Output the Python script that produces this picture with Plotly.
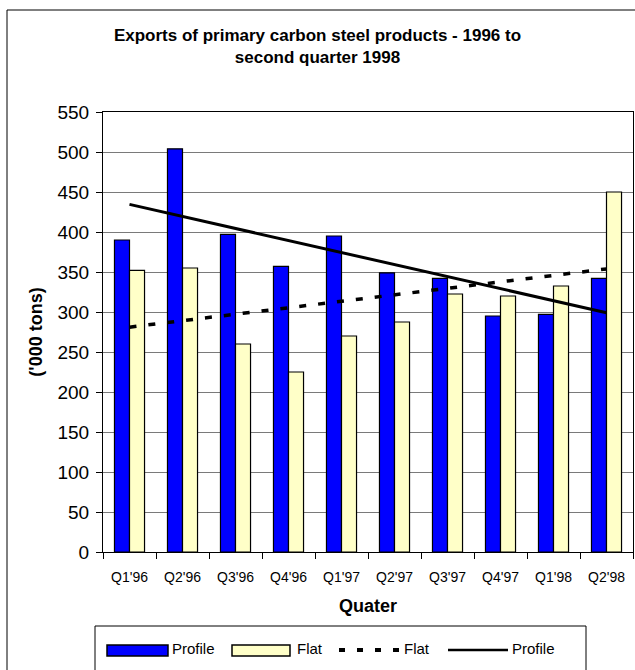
import numpy as np
import plotly.graph_objects as go

# Quarterly export volumes ('000 tons)
quarters = ["Q1'96", "Q2'96", "Q3'96", "Q4'96", "Q1'97",
            "Q2'97", "Q3'97", "Q4'97", "Q1'98", "Q2'98"]
profile = [390, 504, 397, 357, 395, 349, 342, 295, 297, 342]
flat = [352, 355, 260, 225, 270, 287.5, 322.5, 320, 332.5, 450]

y_ticks = list(range(0, 551, 50))

# Least-squares linear trend over the quarter index
idx = np.arange(1, len(quarters) + 1)


def linear_trend(values):
    slope, intercept = np.polyfit(idx, values, 1)
    return slope * idx + intercept


W, H = 635, 670
M_L, M_R, M_T, M_B = 103, 2, 112, 118
PW, PH = W - M_L - M_R, H - M_T - M_B


def px(x):
    return (x - M_L) / PW


def py(y):
    return (H - M_B - y) / PH


FONT = "Arial"

fig = go.Figure()
fig.add_bar(x=quarters, y=profile, name="Profile",
            marker=dict(color="#0000FF", line=dict(color="black", width=1.2)))
fig.add_bar(x=quarters, y=flat, name="Flat",
            marker=dict(color="#FFFFC8", line=dict(color="black", width=1.2)))
fig.add_scatter(x=quarters, y=linear_trend(flat), mode="lines", name="Flat",
                line=dict(color="black", width=3.5, dash="7px,12px"))
fig.add_scatter(x=quarters, y=linear_trend(profile), mode="lines", name="Profile",
                line=dict(color="black", width=3))

shapes = []
# outer chart frame (left and top edges)
shapes.append(dict(type="line", xref="paper", yref="paper",
                   x0=px(7), y0=py(10), x1=px(7), y1=py(700),
                   line=dict(color="black", width=1)))
shapes.append(dict(type="line", xref="paper", yref="paper",
                   x0=px(7), y0=py(10), x1=px(660), y1=py(10),
                   line=dict(color="black", width=1)))
# legend box
shapes.append(dict(type="rect", xref="paper", yref="paper",
                   x0=px(95), y0=py(626), x1=px(586), y1=py(700),
                   line=dict(color="black", width=1), fillcolor="white"))
# legend keys
shapes.append(dict(type="rect", xref="paper", yref="paper",
                   x0=px(107), y0=py(645), x1=px(168), y1=py(656),
                   line=dict(color="black", width=1.5), fillcolor="#0000FF"))
shapes.append(dict(type="rect", xref="paper", yref="paper",
                   x0=px(232), y0=py(645), x1=px(290), y1=py(656),
                   line=dict(color="black", width=1.5), fillcolor="#FFFFC8"))
shapes.append(dict(type="line", xref="paper", yref="paper",
                   x0=px(339), y0=py(650), x1=px(401), y1=py(650),
                   line=dict(color="black", width=4, dash="6px,12px")))
shapes.append(dict(type="line", xref="paper", yref="paper",
                   x0=px(448), y0=py(650), x1=px(508), y1=py(650),
                   line=dict(color="black", width=2.5)))

annotations = []
for label, xpos in [("Profile", 170), ("Flat", 295), ("Flat", 402), ("Profile", 510)]:
    annotations.append(dict(text=label, xref="paper", yref="paper",
                            x=px(xpos), y=py(648), xanchor="left", yanchor="middle",
                            showarrow=False, font=dict(family=FONT, size=15, color="black")))

fig.update_layout(
    width=W, height=H,
    margin=dict(l=M_L, r=M_R, t=M_T, b=M_B),
    paper_bgcolor="white", plot_bgcolor="white",
    barmode="group", bargap=0.433, bargroupgap=0,
    showlegend=False,
    font=dict(family=FONT, color="black"),
    title=dict(text="<b>Exports of primary carbon steel products - 1996 to<br>second quarter 1998</b>",
               x=0.5, xref="container", xanchor="center",
               y=1 - 41 / H, yref="container", yanchor="middle",
               font=dict(family=FONT, size=17, color="black")),
    xaxis=dict(type="category", showline=True, linecolor="black", linewidth=1, mirror=True,
               ticks="outside", tickson="boundaries", ticklen=6, tickcolor="black",
               ticklabelstandoff=12,
               tickfont=dict(family=FONT, size=14, color="black"),
               title=dict(text="<b>Quater</b>", font=dict(family=FONT, size=18, color="black"),
                          standoff=15)),
    yaxis=dict(range=[0, 550], tickvals=y_ticks, showline=True, linecolor="black",
               linewidth=1, mirror=True, ticks="outside", ticklen=6, tickcolor="black",
               ticklabelstandoff=3,
               showgrid=True, gridcolor="#7a7a7a", gridwidth=1.3, zeroline=False,
               tickfont=dict(family=FONT, size=19, color="black"),
               title=dict(text="<b>('000 tons)</b>", font=dict(family=FONT, size=18, color="black"),
                          standoff=10)),
    shapes=shapes,
    annotations=annotations,
)

fig.write_html("out.html")
